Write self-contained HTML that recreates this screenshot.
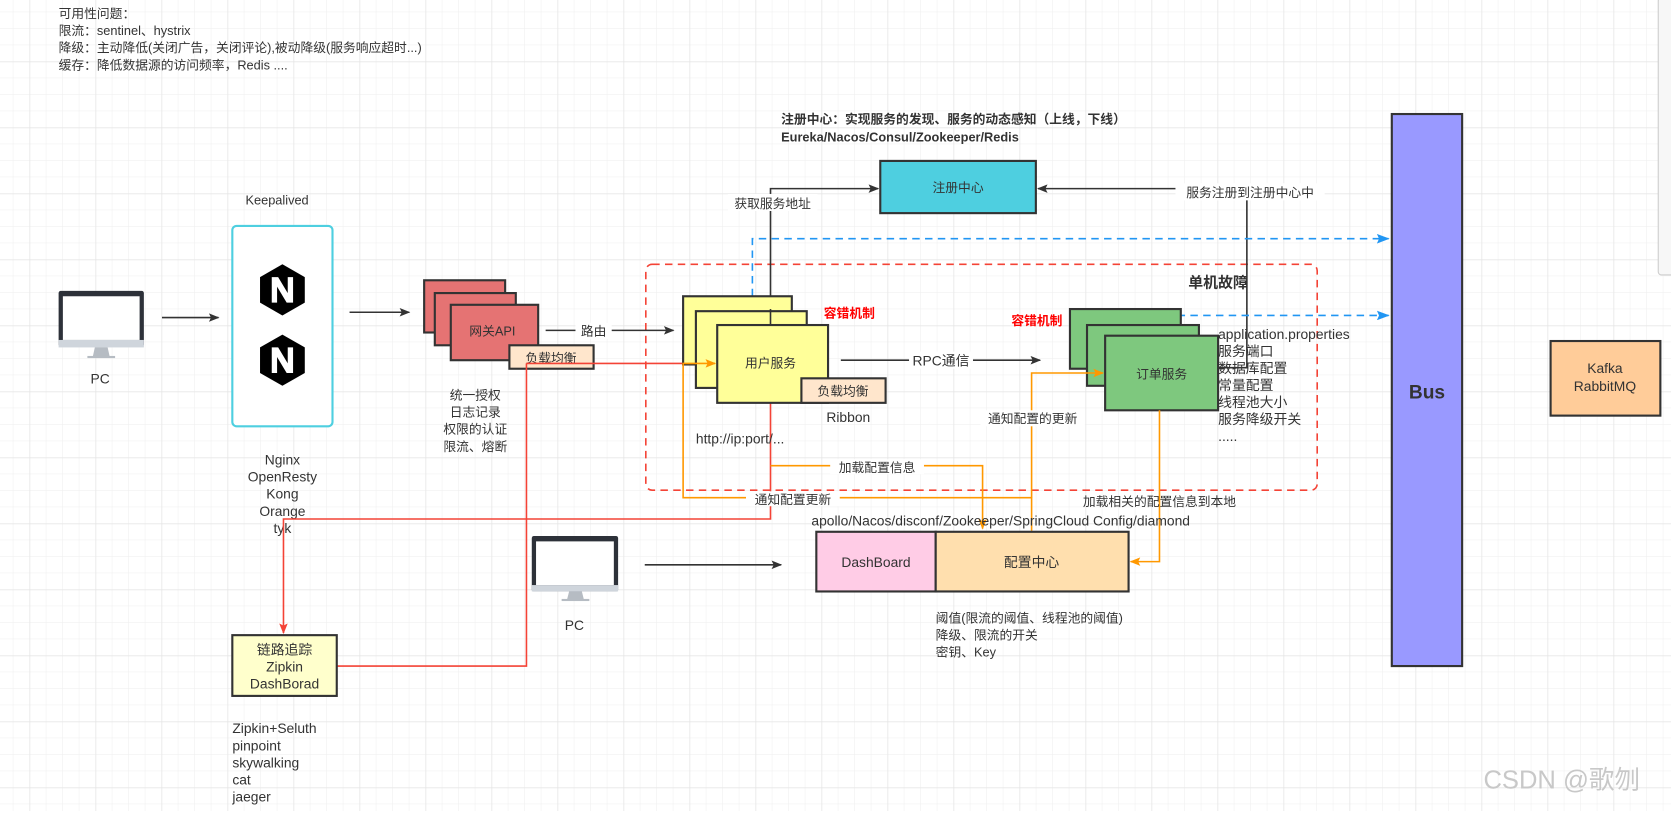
<!DOCTYPE html>
<html><head><meta charset="utf-8"><style>
body{margin:0;width:1671px;height:811px;overflow:hidden;background:#fff;font-family:"Liberation Sans","Noto Sans CJK SC",sans-serif;}
svg text{font-family:"Liberation Sans","Noto Sans CJK SC",sans-serif;fill:#333;}
</style></head><body>
<svg width="1671" height="811" viewBox="0 0 1671 811" xmlns="http://www.w3.org/2000/svg">
<defs>
<pattern id="g" width="16.5" height="16.5" patternUnits="userSpaceOnUse" x="12.8" y="11.7"><path d="M0 0H16.5M0 0V16.5" stroke="#eeeeee" stroke-width="1" fill="none"/></pattern>
<pattern id="G" width="66" height="66" patternUnits="userSpaceOnUse" x="29.7" y="61.7"><path d="M0 0H66M0 0V66" stroke="#e2e2e2" stroke-width="1" fill="none"/></pattern>
<marker id="ak" markerWidth="10" markerHeight="8" refX="9" refY="4" orient="auto" markerUnits="userSpaceOnUse"><path d="M0 0L10 4L0 8L2 4z" fill="#333"/></marker>
<marker id="ar" markerWidth="10" markerHeight="8" refX="9" refY="4" orient="auto" markerUnits="userSpaceOnUse"><path d="M0 0L10 4L0 8L2 4z" fill="#f44336"/></marker>
<marker id="ao" markerWidth="10" markerHeight="8" refX="9" refY="4" orient="auto" markerUnits="userSpaceOnUse"><path d="M0 0L10 4L0 8L2 4z" fill="#ff9800"/></marker>
<marker id="ab" markerWidth="12" markerHeight="9" refX="11" refY="4.5" orient="auto" markerUnits="userSpaceOnUse"><path d="M0 0L12 4.5L0 9L2 4.5z" fill="#2196f3"/></marker>
</defs>
<rect width="1671" height="811" fill="url(#g)"/>
<rect width="1671" height="811" fill="url(#G)"/>

<g transform="scale(1.0657)">
<!-- right panel -->
<rect x="1556" y="-2" width="120" height="260" rx="3" fill="#f7f7f7" stroke="#ccc"/>
<rect x="1656" y="0" width="15" height="8" fill="#555"/>

<g font-size="12">
<text x="55" y="17">可用性问题：</text>
<text x="55" y="33">限流：sentinel、hystrix</text>
<text x="55" y="49">降级：主动降低(关闭广告，关闭评论),被动降级(服务响应超时...)</text>
<text x="55" y="65">缓存：降低数据源的访问频率，Redis ....</text>
</g>
<text x="733" y="116" font-size="12" font-weight="bold">注册中心：实现服务的发现、服务的动态感知（上线，下线）</text>
<text x="733" y="133" font-size="12" font-weight="bold">Eureka/Nacos/Consul/Zookeeper/Redis</text>

<rect x="606" y="248" width="630" height="212" rx="6" fill="none" stroke="#f44336" stroke-width="1.5" stroke-dasharray="7,5"/>
<text x="1115" y="270" font-size="14" font-weight="bold">单机故障</text>

<rect x="826" y="151" width="146" height="49" fill="#4ecfe0" stroke="#333" stroke-width="2"/>
<text x="899" y="180" font-size="12" text-anchor="middle">注册中心</text>
<path d="M723 305V177H824" fill="none" stroke="#333" stroke-width="1.5" marker-end="url(#ak)"/>
<rect x="683" y="182" width="84" height="16" fill="#fff"/>
<text x="725" y="195" font-size="12" text-anchor="middle">获取服务地址</text>
<path d="M1143 345H1170V177H974" fill="none" stroke="#333" stroke-width="1.5" marker-end="url(#ak)"/>
<rect x="1103" y="172" width="140" height="16" fill="#fff"/>
<text x="1173" y="185" font-size="12" text-anchor="middle">服务注册到注册中心中</text>

<path d="M706 290V224H1303" fill="none" stroke="#2196f3" stroke-width="1.5" stroke-dasharray="7,5" marker-end="url(#ab)"/>
<path d="M1088 315V296H1303" fill="none" stroke="#2196f3" stroke-width="1.5" stroke-dasharray="7,5" marker-end="url(#ab)"/>

<g>
<rect x="55" y="273" width="80" height="52" rx="2" fill="#2d3139"/>
<rect x="59" y="278" width="72" height="41" fill="#fff"/>
<rect x="55" y="319" width="80" height="7" fill="#cfd5dc"/>
<path d="M89 326h12l2 9h-16z" fill="#b6bcc3"/>
<rect x="82" y="334" width="26" height="2" fill="#b6bcc3"/>
<text x="94" y="360" font-size="13" text-anchor="middle">PC</text>
</g>
<path d="M152 298H205" stroke="#333" stroke-width="1.5" marker-end="url(#ak)"/>

<text x="260" y="192" font-size="12" text-anchor="middle">Keepalived</text>
<rect x="218" y="212" width="94" height="188" rx="4" fill="#fff" stroke="#4ecfe0" stroke-width="2"/>
<g transform="translate(265,272)"><path d="M0 -24L21 -12V12L0 24L-21 12V-12z" fill="#000"/><path d="M-10 12V-12H-4L5 3V-12H10V12H4L-5 -3V12z" fill="#fff"/></g>
<g transform="translate(265,338)"><path d="M0 -24L21 -12V12L0 24L-21 12V-12z" fill="#000"/><path d="M-10 12V-12H-4L5 3V-12H10V12H4L-5 -3V12z" fill="#fff"/></g>
<g font-size="13" text-anchor="middle">
<text x="265" y="436">Nginx</text><text x="265" y="452">OpenResty</text><text x="265" y="468">Kong</text><text x="265" y="484">Orange</text><text x="265" y="500">tyk</text>
</g>
<path d="M328 293H384" stroke="#333" stroke-width="1.5" marker-end="url(#ak)"/>

<rect x="398" y="263" width="76" height="49" fill="#e57373" stroke="#333" stroke-width="2"/>
<rect x="408" y="275" width="76" height="49" fill="#e57373" stroke="#333" stroke-width="2"/>
<rect x="423" y="286" width="82" height="52" fill="#e57373" stroke="#333" stroke-width="2"/>
<text x="462" y="315" font-size="12" text-anchor="middle">网关API</text>
<rect x="478" y="324" width="79" height="22" fill="#ffe6cc" stroke="#333" stroke-width="2"/>
<text x="517" y="340" font-size="12" text-anchor="middle">负载均衡</text>
<g font-size="12" text-anchor="middle">
<text x="446" y="375">统一授权</text><text x="446" y="391">日志记录</text><text x="446" y="407">权限的认证</text><text x="446" y="423">限流、熔断</text>
</g>
<path d="M512 310H632" stroke="#333" stroke-width="1.5" marker-end="url(#ak)"/>
<rect x="540" y="303" width="34" height="15" fill="#fff"/>
<text x="557" y="315" font-size="12" text-anchor="middle">路由</text>

<path d="M494 341H671" fill="none" stroke="#f44336" stroke-width="1.5" marker-end="url(#ar)"/>
<path d="M494 341V625H316" fill="none" stroke="#f44336" stroke-width="1.5"/>
<path d="M723 378V487H266V594" fill="none" stroke="#f44336" stroke-width="1.5" marker-end="url(#ar)"/>

<rect x="641" y="278" width="102" height="64" fill="#ffff99" stroke="#333" stroke-width="2"/>
<rect x="653" y="292" width="104" height="72" fill="#ffff99" stroke="#333" stroke-width="2"/>
<rect x="673" y="305" width="104" height="73" fill="#ffff99" stroke="#333" stroke-width="2"/>
<path d="M723 305V290" stroke="#333" stroke-width="1.5"/>
<text x="723" y="345" font-size="12" text-anchor="middle">用户服务</text>
<rect x="752" y="355" width="79" height="23" fill="#ffe6cc" stroke="#333" stroke-width="2"/>
<text x="791" y="371" font-size="12" text-anchor="middle">负载均衡</text>
<text x="796" y="396" font-size="13" text-anchor="middle">Ribbon</text>
<text x="653" y="416" font-size="13">http://ip:port/...</text>
<text x="773" y="298" font-size="12" font-weight="bold" style="fill:#f00">容错机制</text>
<text x="949" y="305" font-size="12" font-weight="bold" style="fill:#f00">容错机制</text>

<path d="M789 338H976" stroke="#333" stroke-width="1.5" marker-end="url(#ak)"/>
<rect x="853" y="330" width="60" height="16" fill="#fff"/>
<text x="883" y="343" font-size="13" text-anchor="middle">RPC通信</text>

<rect x="1004" y="290" width="104" height="56" fill="#7ec87e" stroke="#333" stroke-width="2"/>
<rect x="1020" y="305" width="105" height="57" fill="#7ec87e" stroke="#333" stroke-width="2"/>
<rect x="1037" y="315" width="106" height="70" fill="#7ec87e" stroke="#333" stroke-width="2"/>
<text x="1090" y="355" font-size="12" text-anchor="middle">订单服务</text>
<g font-size="13">
<text x="1143" y="318">application.properties</text><text x="1143" y="334">服务端口</text><text x="1143" y="350">数据库配置</text><text x="1143" y="366">常量配置</text><text x="1143" y="382">线程池大小</text><text x="1143" y="398">服务降级开关</text><text x="1143" y="414">.....</text>
</g>

<path d="M723 437H922V496" fill="none" stroke="#ff9800" stroke-width="1.5" marker-end="url(#ao)"/>
<rect x="779" y="431" width="88" height="14" fill="#fff"/>
<text x="823" y="443" font-size="12" text-anchor="middle">加载配置信息</text>
<path d="M968 498V467H641V341H671" fill="none" stroke="#ff9800" stroke-width="1.5" marker-end="url(#ao)"/>
<rect x="700" y="461" width="88" height="14" fill="#fff"/>
<text x="744" y="473" font-size="12" text-anchor="middle">通知配置更新</text>
<path d="M968 467V350H1035" fill="none" stroke="#ff9800" stroke-width="1.5" marker-end="url(#ao)"/>
<rect x="920" y="385" width="98" height="15" fill="#fff"/>
<text x="969" y="397" font-size="12" text-anchor="middle">通知配置的更新</text>
<path d="M1088 385V527H1061" fill="none" stroke="#ff9800" stroke-width="1.5" marker-end="url(#ao)"/>
<text x="1088" y="475" font-size="12" text-anchor="middle">加载相关的配置信息到本地</text>
<text x="939" y="493" font-size="13" text-anchor="middle">apollo/Nacos/disconf/Zookeeper/SpringCloud Config/diamond</text>

<rect x="766" y="499" width="112" height="56" fill="#ffcce6" stroke="#333" stroke-width="2"/>
<text x="822" y="532" font-size="13" text-anchor="middle">DashBoard</text>
<rect x="878" y="499" width="181" height="56" fill="#ffdfae" stroke="#333" stroke-width="2"/>
<text x="968" y="532" font-size="13" text-anchor="middle">配置中心</text>
<g font-size="12"><text x="878" y="584">阈值(限流的阈值、线程池的阈值)</text><text x="878" y="600">降级、限流的开关</text><text x="878" y="616">密钥、Key</text></g>

<g>
<rect x="499" y="503" width="81" height="52" rx="2" fill="#2d3139"/>
<rect x="503" y="508" width="73" height="41" fill="#fff"/>
<rect x="499" y="549" width="81" height="6" fill="#cfd5dc"/>
<path d="M534 555h12l2 8h-16z" fill="#b6bcc3"/>
<rect x="527" y="562" width="26" height="2" fill="#b6bcc3"/>
<text x="539" y="591" font-size="13" text-anchor="middle">PC</text>
</g>
<path d="M605 530H733" stroke="#333" stroke-width="1.5" marker-end="url(#ak)"/>

<rect x="218" y="596" width="98" height="57" fill="#ffffcc" stroke="#333" stroke-width="2"/>
<g font-size="13" text-anchor="middle"><text x="267" y="614">链路追踪</text><text x="267" y="630">Zipkin</text><text x="267" y="646">DashBorad</text></g>
<g font-size="13"><text x="218" y="688">Zipkin+Seluth</text><text x="218" y="704">pinpoint</text><text x="218" y="720">skywalking</text><text x="218" y="736">cat</text><text x="218" y="752">jaeger</text></g>

<rect x="1306" y="107" width="66" height="518" fill="#9999ff" stroke="#333" stroke-width="2"/>
<text x="1339" y="374" font-size="18" font-weight="bold" text-anchor="middle">Bus</text>
<rect x="1455" y="320" width="103" height="70" fill="#ffcc99" stroke="#333" stroke-width="2"/>
<text x="1506" y="350" font-size="13" text-anchor="middle">Kafka</text>
<text x="1506" y="367" font-size="13" text-anchor="middle">RabbitMQ</text>

<text x="1392" y="740" font-size="24" style="fill:#c8c8c8">CSDN @歌刎</text>
</g>
</svg>
</body></html>
